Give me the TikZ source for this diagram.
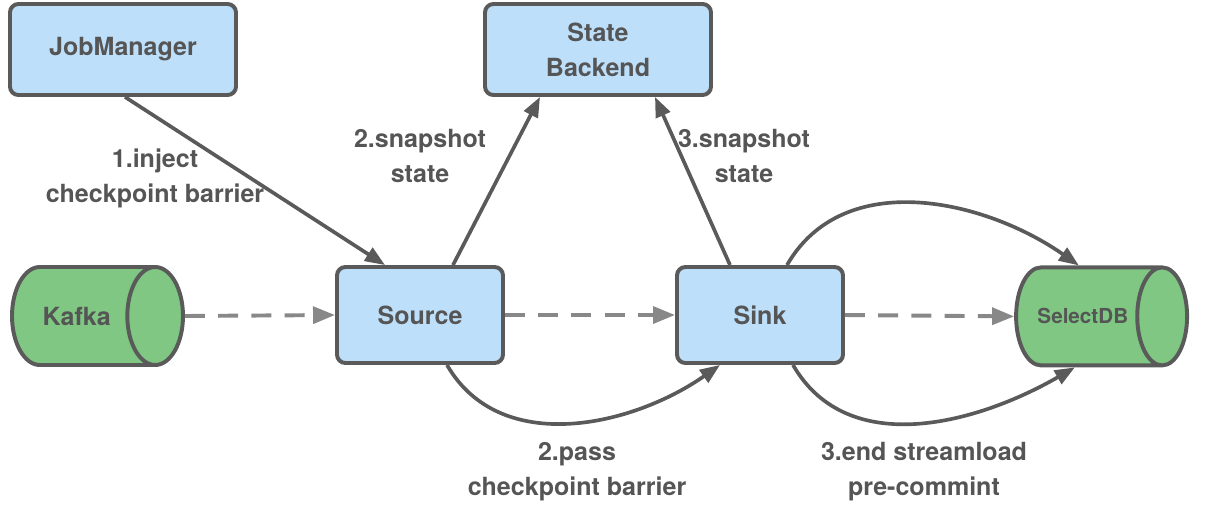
\documentclass[tikz,border=0pt]{standalone}
\usepackage{fontspec}
\setmainfont{TeX Gyre Heros}
\usepackage{tikz}
\usetikzlibrary{shapes.geometric, arrows.meta, positioning, calc}
\definecolor{boxblue}{RGB}{189,223,249}
\definecolor{dbgreen}{RGB}{127,199,131}
\definecolor{edgegray}{RGB}{90,90,90}
\definecolor{flowgray}{RGB}{136,136,136}
\definecolor{txtgray}{RGB}{85,85,85}

\begin{document}
\begin{tikzpicture}[
  task/.style={rectangle, draw=edgegray, fill=boxblue, rounded corners=6pt, line width=2.8pt,
               font=\fontsize{17.8}{25}\selectfont\bfseries, text=txtgray, align=center},
  store/.style={cylinder, draw=edgegray, fill=dbgreen, line width=2.8pt, aspect=2.0,
                minimum width=2.45cm, minimum height=4.275cm, text=txtgray, anchor=shape center,
                font=\fontsize{17.8}{25}\selectfont\bfseries},
  arr/.style={-{Triangle[length=0.5cm,width=0.38cm]}, line width=2.6pt, edgegray},
  flow/.style={-{Triangle[length=0.55cm,width=0.42cm]}, line width=2.8pt, flowgray,
               dash pattern=on 0.5cm off 0.33cm},
  lbl/.style={font=\fontsize{17.8}{25}\selectfont\bfseries, text=txtgray, align=center},
]
  \useasboundingbox (0,0) rectangle (30.65,-12.75);

  \node[task, minimum width=5.65cm, minimum height=2.275cm] (jm) at (3.075,-1.2375) {JobManager};
  \node[task, minimum width=5.65cm, minimum height=2.275cm] (sb) at (14.95,-1.2375) {State\\Backend};
  \node[task, minimum width=4.15cm, minimum height=2.4cm]   (src) at (10.5,-7.875) {Source};
  \node[task, minimum width=4.15cm, minimum height=2.4cm]   (snk) at (19.0,-7.875) {Sink};
  \node[store] (kfk) at (2.4375,-7.9) {Kafka};
  \node[store, font=\fontsize{14.7}{18}\selectfont\bfseries] (sdb) at (27.54,-7.91) {SelectDB};

  % data flow
  \draw[flow] (kfk.east) -- (src.west);
  \draw[flow] (src.east) -- (snk.west);
  \draw[flow] (snk.east) -- (sdb.west);

  % checkpoint
  \draw[arr] ([xshift=0.05cm]jm.south) -- ([xshift=-0.875cm]src.north);
  \draw[arr] ([xshift=0.825cm]src.north) -- ([xshift=-1.45cm]sb.south);
  \draw[arr] ([xshift=-0.75cm]snk.north) -- ([xshift=1.425cm]sb.south);
  \draw[arr] ([xshift=0.675cm]src.south) to[out=-60,in=-145] ([xshift=-1cm]snk.south);
  \draw[arr] ([xshift=0.675cm]snk.north) to[out=60,in=145] ([xshift=-0.1cm]sdb.north);
  \draw[arr] ([xshift=0.825cm]snk.south) to[out=-60,in=-150] ([xshift=-0.2cm]sdb.south);

  \node[lbl] (l1) at (3.875,-4.45) {1.inject\\checkpoint barrier};
  \node[lbl] (l2) at (10.5,-3.9) {2.snapshot\\state};
  \node[lbl] (l3) at (18.6,-3.9) {3.snapshot\\state};
  \node[lbl] (l4) at (14.425,-11.8) {2.pass\\checkpoint barrier};
  \node[lbl] (l5) at (23.1,-11.8) {3.end streamload\\pre-commint};
\end{tikzpicture}
\end{document}
